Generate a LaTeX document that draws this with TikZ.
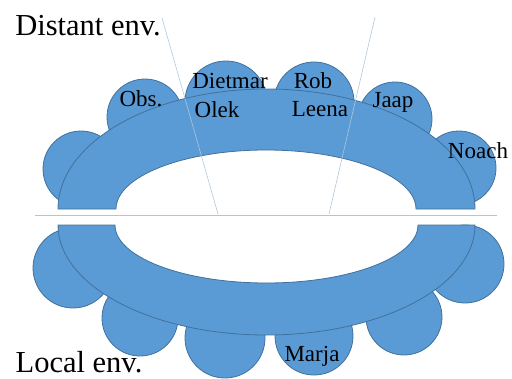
\documentclass[tikz,border=0pt]{standalone}
\usepackage{fontspec}
\setmainfont{Liberation Serif}
\definecolor{shapefill}{RGB}{91,155,213}
\definecolor{shapeline}{RGB}{65,113,156}
\definecolor{thinline}{RGB}{175,198,218}
\begin{document}
\begin{tikzpicture}[x=1pt,y=-1pt,
  blob/.style={circle,draw=shapeline,fill=shapefill,line width=0.8pt,inner sep=0pt,minimum size=#1},
  arch/.style={draw=shapeline,fill=shapefill,line width=0.8pt},
  guide/.style={draw=thinline,line width=0.6pt},
  bigtxt/.style={font=\fontsize{30.5}{32}\selectfont,anchor=base,inner sep=0pt},
  lbl/.style={font=\fontsize{23}{24}\selectfont,anchor=base,inner sep=0pt,text=black}]
\useasboundingbox (0,0) rectangle (512,378);
% top circles
\node[blob=76pt] (cTL) at (81,169) {};
\node[blob=76pt] (cObs) at (145,117) {};
\node[blob=82pt] (cDiet) at (226,102) {};
\node[blob=80pt] (cRob) at (314,102) {};
\node[blob=74pt] (cJaap) at (395,119) {};
\node[blob=74pt] (cNoach) at (459,168) {};
% top arch
\path[arch] (58,209) arc[start angle=180,end angle=0,x radius=208.5pt,y radius=120pt]
  -- (416,209) arc[start angle=0,end angle=180,x radius=150pt,y radius=59pt] -- cycle;
% bottom circles
\node[blob=80pt] (cBL) at (73,268) {};
\node[blob=76pt] (cB2) at (140,318) {};
\node[blob=80pt] (cB3) at (225,338) {};
\node[blob=78pt] (cMarja) at (314,336) {};
\node[blob=76pt] (cB5) at (404,317) {};
\node[blob=78pt] (cBR) at (465,264) {};
% bottom arch
\path[arch] (58,225) arc[start angle=180,end angle=360,x radius=208.5pt,y radius=110pt]
  -- (418,225) arc[start angle=360,end angle=180,x radius=151.5pt,y radius=58pt] -- cycle;
% guide lines
\coordinate (hL) at (35,215);
\coordinate (hR) at (497,215);
\coordinate (aT) at (162,18);
\coordinate (aB) at (218,214);
\coordinate (bT) at (375,17);
\coordinate (bB) at (329,214);
\draw[guide] (hL) -- (hR);
\draw[guide] (aT) -- (aB);
\draw[guide] (bT) -- (bB);
% texts
\node[bigtxt] (distant) at (88,35) {Distant env.};
\node[bigtxt] (local) at (79,372) {Local env.};
\node[lbl] (tObs) at (141,106) {Obs.};
\node[lbl] (tDiet) at (230,88) {Dietmar};
\node[lbl] (tOlek) at (217,117) {Olek};
\node[lbl] (tRob) at (313,88) {Rob};
\node[lbl] (tLeena) at (320,116) {Leena};
\node[lbl] (tJaap) at (393,107) {Jaap};
\node[lbl] (tNoach) at (478,158) {Noach};
\node[lbl] (tMarja) at (312,361) {Marja};
\end{tikzpicture}
\end{document}
